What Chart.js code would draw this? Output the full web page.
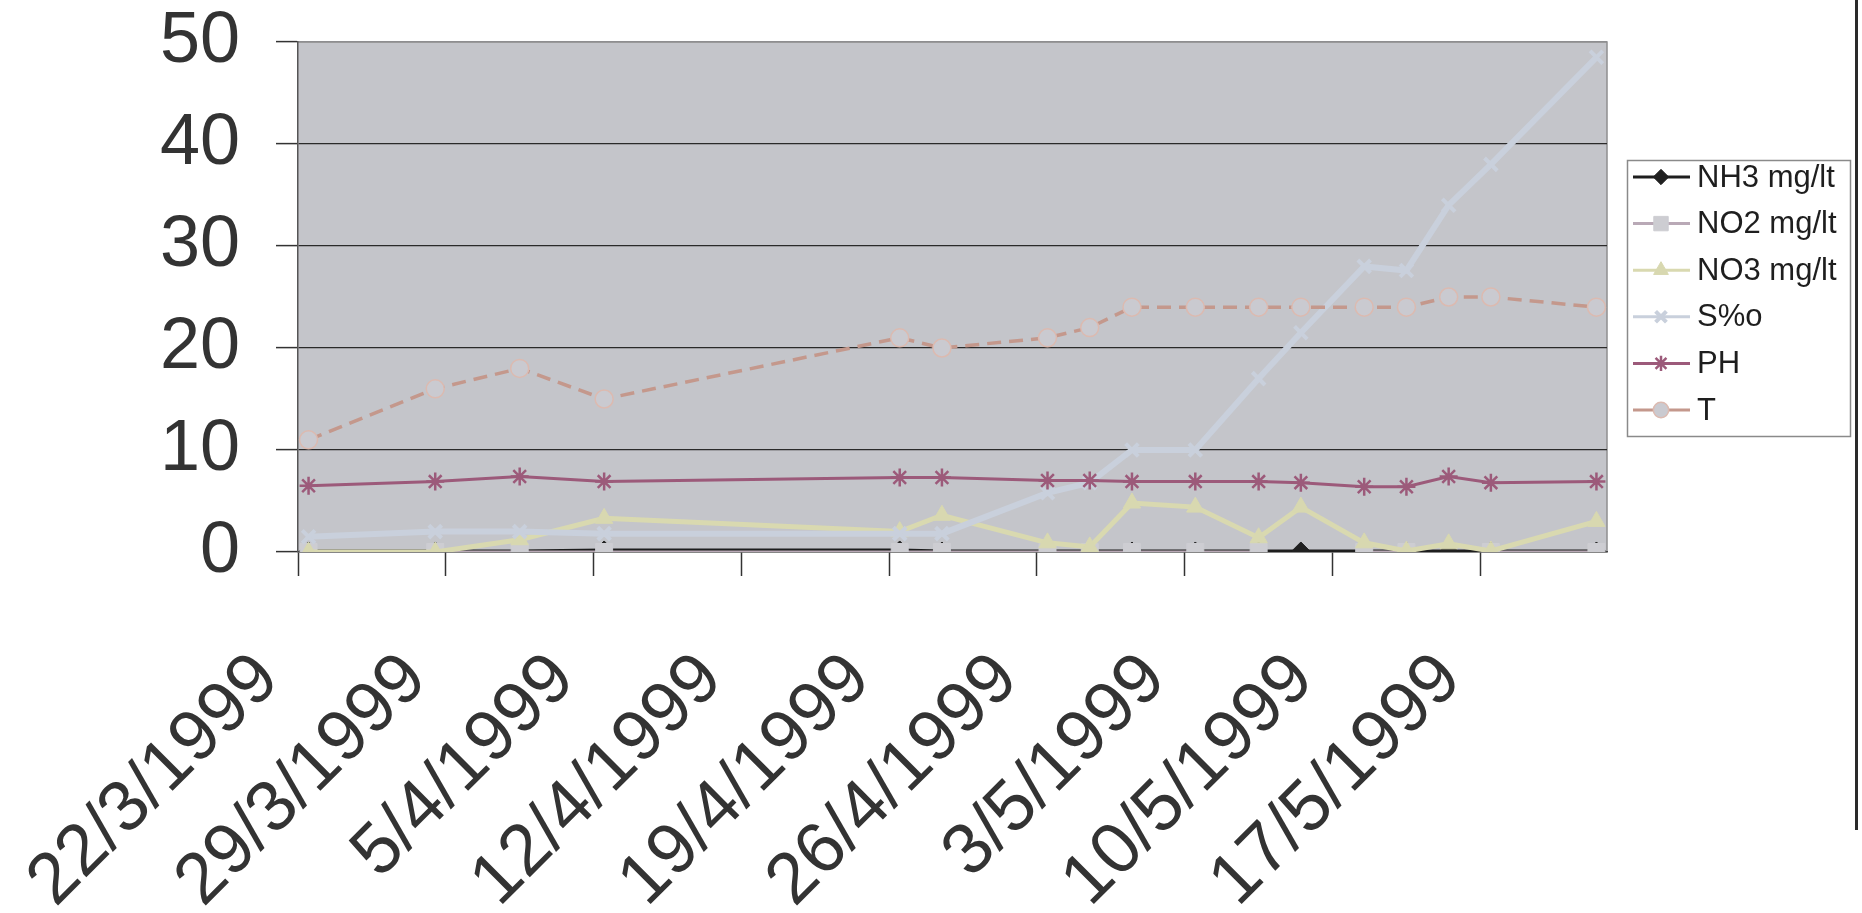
<!DOCTYPE html>
<html><head><meta charset="utf-8">
<script src="https://cdn.jsdelivr.net/npm/chart.js@4.4.0/dist/chart.umd.min.js"></script>
<style>
html,body{margin:0;padding:0;background:#fff;}
#wrap{position:relative;width:1862px;height:913px;overflow:hidden;}
canvas{display:block;}
#edge{position:absolute;left:1855px;top:0;width:3px;height:830px;background:#2a2a2a;}
</style></head><body>
<div id="wrap"><canvas id="c" width="1862" height="913"></canvas><div id="edge"></div></div>
<script>
// ---- data ----
const sampleDates = ['22/3/1999','28/3/1999','1/4/1999','5/4/1999','19/4/1999','21/4/1999','26/4/1999','28/4/1999','30/4/1999','3/5/1999','6/5/1999','8/5/1999','11/5/1999','13/5/1999','15/5/1999','17/5/1999','22/5/1999'];
const seriesNames = ['NH3 mg/lt','NO2 mg/lt','NO3 mg/lt','S%o','PH','T'];
const nh3  = [0.1,0.1,0.1,0.2,0.2,0.1,0.1,0.1,0.1,0.1,0.1,0.1,0.1,0.1,0.1,0.1,0.1];
const no2  = [0,0,0,0,0,0,0,0,0,0,0,null,0,0,null,0,0];
const no3  = [0,0,1.2,3.3,2.0,3.6,0.9,0.5,4.8,4.4,1.4,4.4,0.9,0.1,0.8,0.1,3.0];
const sal  = [1.5,2,2,1.8,1.8,1.8,5.8,6.8,10,10,17,21.5,28,27.6,34,38,48.5];
const ph   = [6.5,6.9,7.4,6.9,7.3,7.3,7.0,7.0,6.9,6.9,6.9,6.8,6.4,6.4,7.4,6.8,6.9];
const temp = [11,16,18,15,21,20,21,22,24,24,24,24,24,24,25,25,24];
const xTickLabels = ['22/3/1999','29/3/1999','5/4/1999','12/4/1999','19/4/1999','26/4/1999','3/5/1999','10/5/1999','17/5/1999'];
const yTicks = [0,10,20,30,40,50];

// ---- helpers ----
function dayNum(s){const p=s.split('/').map(Number);return Date.UTC(p[2],p[1]-1,p[0])/86400000;}
const d0 = dayNum(sampleDates[0]);
const xs = sampleDates.map(s=>dayNum(s)-d0);
const tickPos = xTickLabels.map(s=>dayNum(s)-d0-0.5);
const pts = arr => arr.map((v,i)=>({x:xs[i], y:v}));

const FONT = "'Liberation Sans', Arial, sans-serif";
const styles = [
  {c:'#1e1e1e', w:3, ps:'rectRot', r:9, bg:'#202020', bc:'#202020', bw:1},
  {c:'#b9a9b6', w:3, ps:'rect', r:12, bg:'#cdcdd2', bc:'#cdcdd2', bw:1},
  {c:'#d9d9b0', w:5, ps:'triangle', r:10, bg:'#d8d8b0', bc:'#d8d8b0', bw:1},
  {c:'#c9d0dc', w:6, ps:'crossRot', r:9, bg:'#c9d0dc', bc:'#c9d0dc', bw:4},
  {c:'#9c5a7a', w:3, ps:'star', r:9, bg:'rgba(0,0,0,0)', bc:'#9c5a7a', bw:2.5},
  {c:'#c4988c', w:3.5, ps:'circle', r:9, bg:'#cacad0', bc:'#dcbab0', bw:1.5, dash:[14,8]}
];
const values = [nh3,no2,no3,sal,ph,temp];
const datasets = values.map((arr,i)=>{
  const s = styles[i];
  return {label:seriesNames[i], data:pts(arr), borderColor:s.c, borderWidth:s.w,
    borderDash:s.dash||[], pointStyle:s.ps, pointRadius:s.r, pointBackgroundColor:s.bg,
    pointBorderColor:s.bc, pointBorderWidth:s.bw, tension:0, spanGaps:false,
    order: values.length - i, fill:false};
});

const bgPlugin = {id:'plotBg', beforeDraw(chart){
  const a = chart.chartArea, ctx = chart.ctx;
  ctx.save(); ctx.fillStyle='#c4c5ca'; ctx.fillRect(a.left,a.top,a.right-a.left,a.bottom-a.top);
  ctx.strokeStyle='#8e8e90'; ctx.lineWidth=1.5;
  ctx.beginPath(); ctx.moveTo(a.left,a.top); ctx.lineTo(a.right,a.top); ctx.lineTo(a.right,a.bottom); ctx.stroke();
  ctx.restore();
}};
const legendPlugin = {id:'boxLegend', afterDraw(chart){
  const ctx = chart.ctx; const bx=1627, by=160, bw=223, bh=276;
  ctx.save(); ctx.fillStyle='#fff'; ctx.fillRect(bx,by,bw,bh);
  ctx.strokeStyle='#8a8a8a'; ctx.lineWidth=1.5; ctx.strokeRect(bx+0.5,by+0.5,bw,bh);
  chart.data.datasets.forEach((ds,i)=>{
    const y = 177 + i*46.6;
    ctx.setLineDash([]); ctx.strokeStyle = ds.borderColor; ctx.lineWidth = Math.min(ds.borderWidth,3);
    ctx.beginPath(); ctx.moveTo(1633,y); ctx.lineTo(1690,y); ctx.stroke();
    if (Chart.helpers && Chart.helpers.drawPoint){
      ctx.fillStyle = ds.pointBackgroundColor;
      ctx.strokeStyle = ds.pointBorderColor; ctx.lineWidth = ds.pointBorderWidth;
      Chart.helpers.drawPoint(ctx,{pointStyle:ds.pointStyle, radius:ds.pointRadius*0.85, borderWidth:ds.pointBorderWidth, rotation:0},1661,y);
    }
    ctx.fillStyle='#1e1e1e'; ctx.font='31px '+FONT; ctx.textBaseline='middle'; ctx.textAlign='left';
    ctx.fillText(ds.label,1697,y+1);
  });
  ctx.restore();
}};

new Chart(document.getElementById('c'),{
  type:'line',
  data:{datasets},
  plugins:[bgPlugin,legendPlugin],
  options:{
    responsive:false, animation:false, devicePixelRatio:1,
    layout:{padding:{left:0,right:255,top:42,bottom:0}},
    plugins:{legend:{display:false}, tooltip:{enabled:false}},
    scales:{
      x:{type:'linear', min:tickPos[0], max:xs[xs.length-1]+0.5,
        afterBuildTicks:s=>{s.ticks = tickPos.map(v=>({value:v}));},
        afterFit:s=>{s.height = 913-552; s.paddingLeft=0; s.paddingRight=0;},
        ticks:{autoSkip:false, minRotation:45, maxRotation:45, padding:61, labelOffset:-30, color:'#333',
          font:{family:FONT,size:72}, callback:(v,i)=>xTickLabels[i]},
        grid:{drawOnChartArea:false, drawTicks:true, tickLength:24, tickColor:'#333', tickWidth:1.5},
        border:{color:'#444', width:1.5}
      },
      y:{min:0, max:50,
        afterBuildTicks:s=>{s.ticks = yTicks.map(v=>({value:v}));},
        afterFit:s=>{s.width = 298; s.paddingTop=0; s.paddingBottom=0;},
        ticks:{padding:36, color:'#333', font:{family:FONT,size:72}},
        grid:{color:c=> (c.tick && c.tick.value===50)?'#8e8e90':'#2a2a2a', lineWidth:1.2, tickLength:22, tickColor:'#333', tickWidth:1.5},
        border:{color:'#555', width:1.5}
      }
    }
  }
});
</script>
</body></html>
